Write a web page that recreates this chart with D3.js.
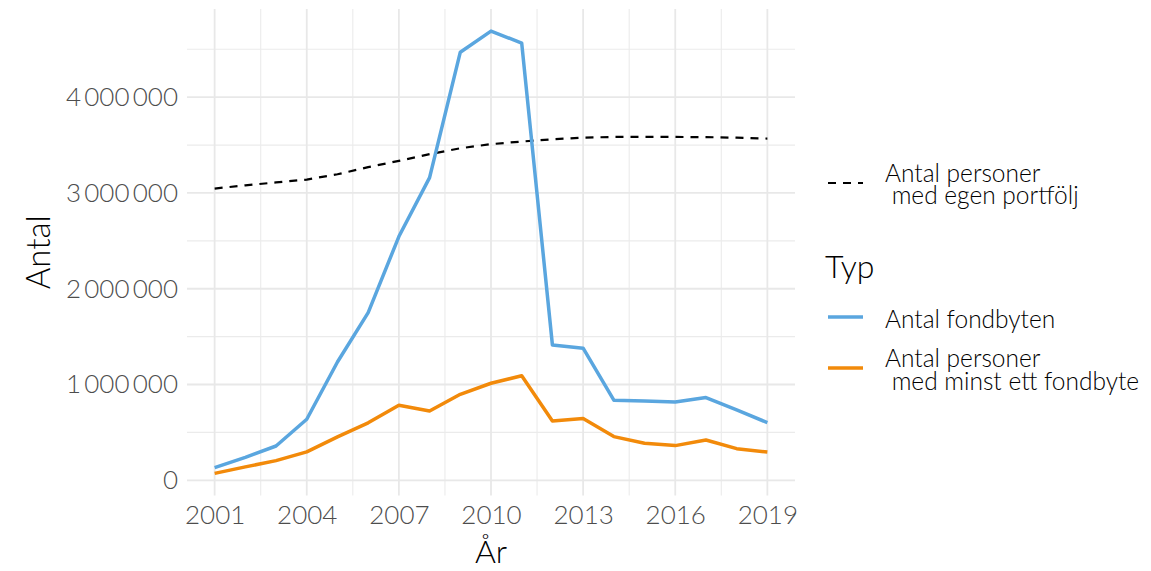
<!DOCTYPE html>
<html>
<head>
<meta charset="utf-8">
<script src="https://cdn.jsdelivr.net/npm/d3@7"></script>
<style>
  html, body { margin: 0; padding: 0; background: #ffffff; }
  svg { display: block; font-family: Lato, "Open Sans", sans-serif; font-weight: 300; }
</style>
</head>
<body>
<svg id="chart" width="1151" height="571"></svg>
<script>
// Years on the x axis
const years = [2001, 2002, 2003, 2004, 2005, 2006, 2007, 2008, 2009, 2010,
               2011, 2012, 2013, 2014, 2015, 2016, 2017, 2018, 2019];

// Antal fondbyten (number of fund switches)
const fondbyten = [133000, 240000, 358000, 637000, 1235000, 1750000, 2545000, 3160000, 4470000, 4690000,
                   4565000, 1413000, 1379000, 836000, 828000, 818000, 864000, 734000, 602000];

// Antal personer med minst ett fondbyte
const personerByte = [72000, 140000, 205000, 296000, 453000, 600000, 783000, 724000, 898000, 1013000,
                      1092000, 620000, 644000, 456000, 386000, 362000, 420000, 330000, 295000];

// Antal personer med egen portfölj (dashed reference line)
const personerPortfolj = [3046000, 3080000, 3110000, 3140000, 3195000, 3270000, 3335000, 3405000, 3467000, 3510000,
                          3537000, 3560000, 3578000, 3585000, 3585000, 3585000, 3583000, 3577000, 3568000];

const xTicks = [2001, 2004, 2007, 2010, 2013, 2016, 2019];
const yTicks = [0, 1000000, 2000000, 3000000, 4000000];

const seriesNames = ["Antal fondbyten", "Antal personer\n med minst ett fondbyte"];
const portfoljName = "Antal personer\n med egen portfölj";
const legendTitle = "Typ";
const xTitle = "År";
const yTitle = "Antal";

const colors = ["#5aa6df", "#f28a0a"];

const svg = d3.select("#chart");
const panel = { left: 187, right: 795, top: 9, bottom: 495.5 };

// Scales with a 5% expansion on each side of the data range
const xExt = d3.extent(years);
const xPad = (xExt[1] - xExt[0]) * 0.05;
const x = d3.scaleLinear().domain([xExt[0] - xPad, xExt[1] + xPad]).range([panel.left, panel.right]);

const allY = fondbyten.concat(personerByte, personerPortfolj);
const yExt = d3.extent(allY);
const yPad = (yExt[1] - yExt[0]) * 0.05;
const y = d3.scaleLinear().domain([yExt[0] - yPad, yExt[1] + yPad]).range([panel.bottom, panel.top]);

// Swedish number style: thin space as thousands separator
const sv = d3.formatLocale({ decimal: ",", thousands: "\u2009", grouping: [3], currency: ["", " kr"] });
const fmt = sv.format(",d");

// Grid lines: minor halfway between major breaks
const xMinor = d3.pairs(xTicks).map(([a, b]) => (a + b) / 2);
const yMinor = d3.range(500000, y.domain()[1], 1000000);

const grid = svg.append("g");
grid.selectAll(".xminor").data(xMinor).join("line")
  .attr("x1", d => x(d)).attr("x2", d => x(d))
  .attr("y1", panel.top).attr("y2", panel.bottom)
  .attr("stroke", "#ebebeb").attr("stroke-width", 1.1);
grid.selectAll(".yminor").data(yMinor).join("line")
  .attr("y1", d => y(d)).attr("y2", d => y(d))
  .attr("x1", panel.left).attr("x2", panel.right)
  .attr("stroke", "#ebebeb").attr("stroke-width", 1.1);
grid.selectAll(".xmajor").data(xTicks).join("line")
  .attr("x1", d => x(d)).attr("x2", d => x(d))
  .attr("y1", panel.top).attr("y2", panel.bottom)
  .attr("stroke", "#e8e8e8").attr("stroke-width", 1.8);
grid.selectAll(".ymajor").data(yTicks).join("line")
  .attr("y1", d => y(d)).attr("y2", d => y(d))
  .attr("x1", panel.left).attr("x2", panel.right)
  .attr("stroke", "#e8e8e8").attr("stroke-width", 1.8);

// Axes (labels only, no domain line or ticks)
const xAxis = svg.append("g")
  .attr("transform", `translate(0,${panel.bottom})`)
  .call(d3.axisBottom(x).tickValues(xTicks).tickFormat(d3.format("d")).tickSize(0).tickPadding(9));
const yAxis = svg.append("g")
  .attr("transform", `translate(${panel.left},0)`)
  .call(d3.axisLeft(y).tickValues(yTicks).tickFormat(fmt).tickSize(0).tickPadding(9));
[xAxis, yAxis].forEach(g => {
  g.select(".domain").remove();
  g.selectAll("text")
    .attr("fill", "#4d4d4d")
    .style("font-size", "26px")
    .style("font-family", "Lato, 'Open Sans', sans-serif")
    .style("font-weight", 300);
});
xAxis.selectAll("text").attr("dy", null).attr("y", 28.5);

// Lines
const line = vals => d3.line().x((d, i) => x(years[i])).y(d => y(d))(vals);

svg.append("path").attr("d", line(personerPortfolj))
  .attr("fill", "none").attr("stroke", "#000").attr("stroke-width", 2.2)
  .attr("stroke-dasharray", "8,7");

[fondbyten, personerByte].forEach((vals, i) => {
  svg.append("path").attr("d", line(vals))
    .attr("fill", "none").attr("stroke", colors[i]).attr("stroke-width", 3.5)
    .attr("stroke-linejoin", "round");
});

// Axis titles
svg.append("text").text(xTitle)
  .attr("x", (panel.left + panel.right) / 2).attr("y", 563)
  .attr("text-anchor", "middle").style("font-size", "32px").attr("fill", "#000");
svg.append("text").text(yTitle)
  .attr("transform", `translate(50,${(panel.top + panel.bottom) / 2}) rotate(-90)`)
  .attr("text-anchor", "middle").style("font-size", "33px").attr("fill", "#000");

// Legend
const legend = svg.append("g");
function multiline(g, label, xPos, baseline, step) {
  const t = g.append("text").attr("x", xPos).attr("y", baseline)
    .style("font-size", "24.5px").attr("fill", "#000").attr("xml:space", "preserve");
  label.split("\n").forEach((s, k) => {
    t.append("tspan").attr("x", xPos).attr("y", baseline + k * step).text(s);
  });
}

legend.append("line").attr("x1", 828).attr("x2", 863).attr("y1", 183).attr("y2", 183)
  .attr("stroke", "#000").attr("stroke-width", 2.2).attr("stroke-dasharray", "8,7");
multiline(legend, portfoljName, 885, 181.5, 22.5);

legend.append("text").text(legendTitle).attr("x", 825).attr("y", 278)
  .style("font-size", "32px").attr("fill", "#000");

const keyY = [317, 368];
const textY = [328, 367];
seriesNames.forEach((name, i) => {
  legend.append("line").attr("x1", 828).attr("x2", 863).attr("y1", keyY[i]).attr("y2", keyY[i])
    .attr("stroke", colors[i]).attr("stroke-width", 3.5);
  multiline(legend, name, 885, textY[i], 22.5);
});
</script>
</body>
</html>
